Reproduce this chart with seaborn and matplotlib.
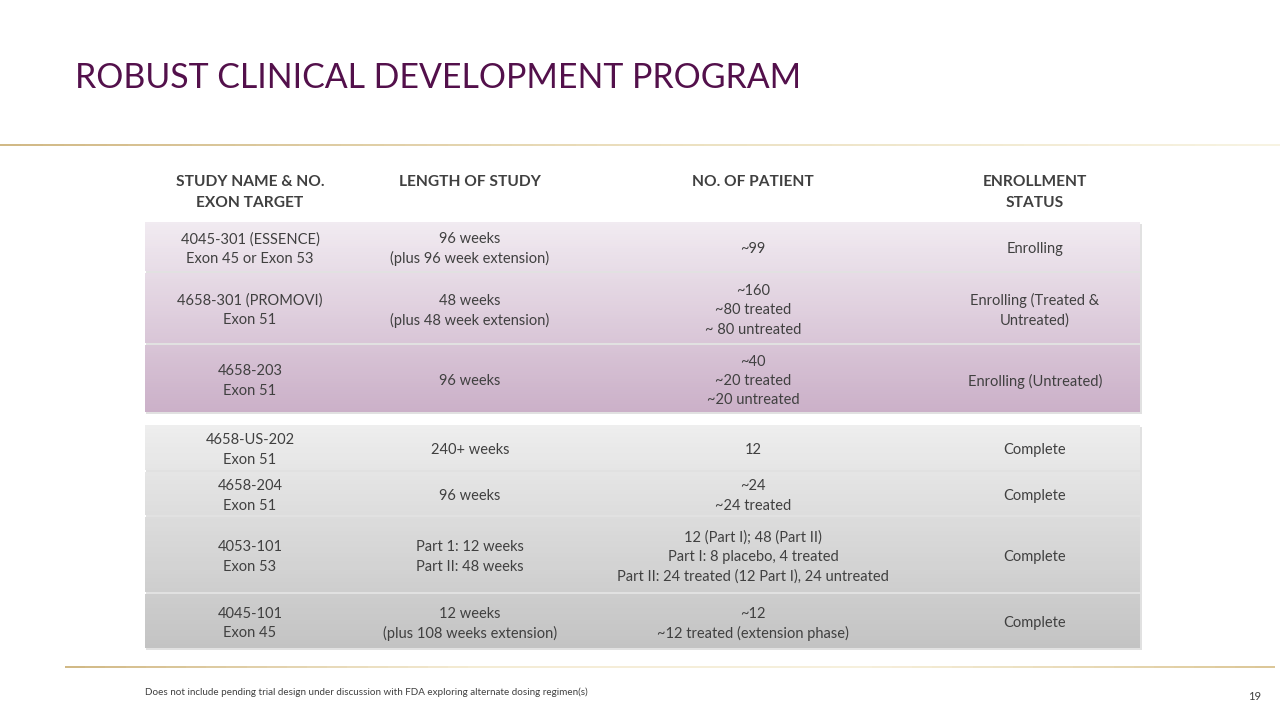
import numpy as np
import matplotlib.pyplot as plt
import seaborn as sns

# table content
headers = ["STUDY NAME & NO.\nEXON TARGET", "LENGTH OF STUDY", "NO. OF PATIENT", "ENROLLMENT\nSTATUS"]

study_names = [
    "4045-301 (ESSENCE)\nExon 45 or Exon 53",
    "4658-301 (PROMOVI)\nExon 51",
    "4658-203\nExon 51",
    "4658-US-202\nExon 51",
    "4658-204\nExon 51",
    "4053-101\nExon 53",
    "4045-101\nExon 45",
]
study_lengths = [
    "96 weeks\n(plus 96 week extension)",
    "48 weeks\n(plus 48 week extension)",
    "96 weeks",
    "240+ weeks",
    "96 weeks",
    "Part 1: 12 weeks\nPart II: 48 weeks",
    "12 weeks\n(plus 108 weeks extension)",
]
patients = [
    "~99",
    "~160\n~80 treated\n~ 80 untreated",
    "~40\n~20 treated\n~20 untreated",
    "12",
    "~24\n~24 treated",
    "12 (Part I); 48 (Part II)\nPart I: 8 placebo, 4 treated\nPart II: 24 treated (12 Part I), 24 untreated",
    "~12\n~12 treated (extension phase)",
]
statuses = [
    "Enrolling",
    "Enrolling (Treated &\nUntreated)",
    "Enrolling (Untreated)",
    "Complete",
    "Complete",
    "Complete",
    "Complete",
]
groups = ["ongoing", "ongoing", "ongoing", "done", "done", "done", "done"]

title = "ROBUST CLINICAL DEVELOPMENT PROGRAM"
footnote = "Does not include pending trial design under discussion with FDA exploring alternate dosing regimen(s)"
page_no = "19"

# layout (pixel coordinates on a 1280x720 canvas)
row_tops = [222, 273, 345, 425, 472, 517, 594]
row_bottoms = [271, 343, 412, 470, 515, 592, 648]
col_x = [250, 470, 753, 1035]
table_left, table_right = 145, 1140
group_span = {"ongoing": (222, 412), "done": (425, 648)}
group_colors = {"ongoing": ("#f1ebf1", "#cbb0c8"), "done": ("#eeeeee", "#c3c3c3")}

sns.set_theme(style="white")
plt.rcParams["font.family"] = ["Lato", "DejaVu Sans"]

fig = plt.figure(figsize=(12.8, 7.2), dpi=100)
ax = fig.add_axes([0, 0, 1, 1])
ax.set_xlim(0, 1280)
ax.set_ylim(720, 0)
ax.axis("off")

text_color = "#404040"


def put_lines(x, y_mid, s, step, **kw):
    # one text per line so the line pitch matches the slide
    lines = s.split("\n")
    for k, line in enumerate(lines):
        ax.text(x, y_mid + (k - (len(lines) - 1) / 2) * step, line,
                ha="center", va="center", color=text_color, **kw)


# title
ax.text(75, 78, title, fontsize=24.4, color="#53104b", va="center", ha="left")

# gold rules
def gold_rule(x0, x1, y, stops):
    n = 60
    xs = np.linspace(x0, x1, n + 1)
    cols = sns.blend_palette(stops, n_colors=n)
    for i in range(n):
        ax.plot(xs[i:i + 2], [y, y], color=cols[i], lw=1.3, solid_capstyle="butt")

gold_rule(0, 1280, 145, ["#cdb27a", "#e9dcb8", "#f7f2df"])
gold_rule(65, 1275, 667, ["#cdb27a", "#f3ead0", "#f6efda", "#d9c28d"])

# group shadows
for g, (top, bot) in group_span.items():
    ax.barh([(top + bot) / 2 + 2], [table_right - table_left + 1], left=table_left + 1,
            height=bot - top, color="#bdbdbd", alpha=0.45, linewidth=0)

# row backgrounds with vertical gradient inside each group
for top, bot, g in zip(row_tops, row_bottoms, groups):
    g_top, g_bot = group_span[g]
    n = max(int((bot - top) / 2), 1)
    edges = np.linspace(top, bot, n + 1)
    mids = (edges[:-1] + edges[1:]) / 2
    palette = sns.blend_palette(group_colors[g], n_colors=101)
    cols = [palette[int(round(100 * (m - g_top) / (g_bot - g_top)))] for m in mids]
    ax.barh(mids, [table_right - table_left] * n, left=table_left,
            height=(bot - top) / n + 0.3, color=cols, linewidth=0)

# headers
for x, h in zip(col_x, headers):
    n_lines = len(h.split("\n"))
    put_lines(x, 182 + (n_lines - 1) * 10.5, h, 21, fontsize=11.2, fontweight="bold")

# cells
for i, (top, bot) in enumerate(zip(row_tops, row_bottoms)):
    yc = (top + bot) / 2 + 2.5
    for x, col in zip(col_x, [study_names, study_lengths, patients, statuses]):
        put_lines(x, yc, col[i], 19.5, fontsize=10.5)

# footer
ax.text(145, 692, footnote, fontsize=7.1, color=text_color, va="center", ha="left")
ax.text(1255, 697, page_no, fontsize=8, color=text_color, va="center", ha="center")

fig.savefig("out.png", dpi=100)
